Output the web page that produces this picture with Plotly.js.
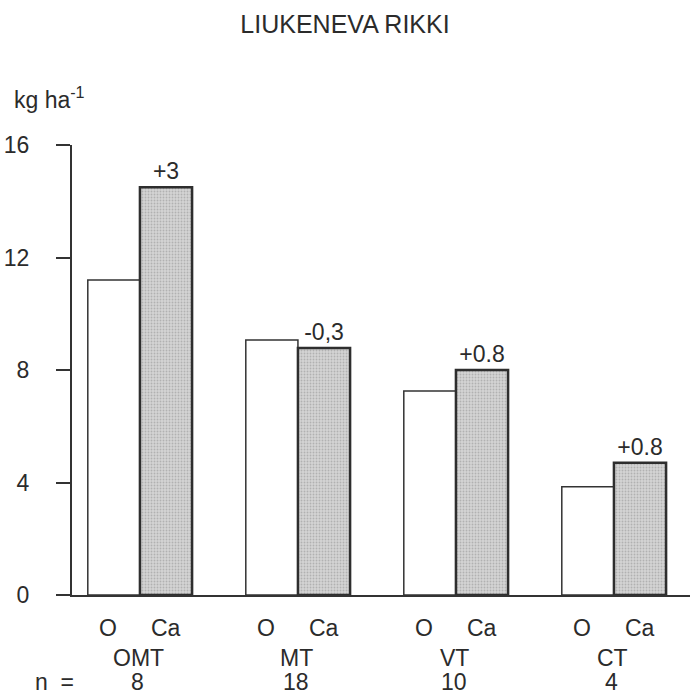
<!DOCTYPE html>
<html>
<head>
<meta charset="utf-8">
<script src="https://cdn.plot.ly/plotly-3.0.1.min.js"></script>
<style>html,body{margin:0;padding:0;background:#fff;}#chart{width:690px;height:697px;}</style>
</head>
<body>
<div id="chart"></div>
<script>
const categories = ['OMT', 'MT', 'VT', 'CT'];
const nValues = ['8', '18', '10', '4'];
const seriesNames = ['O', 'Ca'];
const valuesO = [11.2, 9.07, 7.25, 3.85];
const valuesCa = [14.5, 8.78, 8.0, 4.7];
const diffLabels = ['+3', '-0,3', '+0.8', '+0.8'];
const yTicks = [0, 4, 8, 12, 16];

const FONT = 'Liberation Sans, Arial, Helvetica, sans-serif';
const INK = '#2b2b2b';
const FS = 23;
const xIdx = categories.map((c, i) => i);

function py(p) { return (595 - p) / 450; }
function px(p) { return (p - 72) / 618; }

const traces = [
  {
    type: 'bar', name: seriesNames[0], x: xIdx, y: valuesO,
    marker: {color: '#ffffff', line: {color: '#333333', width: 1.5}},
    hoverinfo: 'skip'
  },
  {
    type: 'bar', name: seriesNames[1], x: xIdx, y: valuesCa,
    text: diffLabels, textposition: 'outside', cliponaxis: false,
    textfont: {family: FONT, size: FS, color: INK},
    marker: {
      color: '#c4c4c4',
      line: {color: '#2e2e2e', width: 2.5},
      pattern: {shape: '.', bgcolor: '#d4d4d4', fgcolor: '#8e8e8e', size: 3, solidity: 0.3, fillmode: 'overlay'}
    },
    hoverinfo: 'skip'
  }
];

const annotations = [];
const off = 0.165;
const tf = {family: FONT, size: FS, color: INK};
categories.forEach((c, i) => {
  annotations.push({x: i - off - 0.035, y: py(628), xref: 'x', yref: 'paper', text: seriesNames[0], showarrow: false, font: tf, yanchor: 'middle'});
  annotations.push({x: i + off, y: py(628), xref: 'x', yref: 'paper', text: seriesNames[1], showarrow: false, font: tf, yanchor: 'middle'});
  annotations.push({x: i - 0.01, y: py(658), xref: 'x', yref: 'paper', text: c, showarrow: false, font: tf, yanchor: 'middle'});
  annotations.push({x: i - 0.015, y: py(697), xref: 'x', yref: 'paper', text: nValues[i], showarrow: false, font: tf, yanchor: 'bottom'});
});
annotations.push({x: px(33), y: py(697), xref: 'paper', yref: 'paper', text: 'n  =', showarrow: false, font: tf, xanchor: 'left', yanchor: 'bottom'});
annotations.push({x: px(12), y: py(98), xref: 'paper', yref: 'paper', text: 'kg ha<sup>-1</sup>', showarrow: false, font: tf, xanchor: 'left', yanchor: 'middle'});

const layout = {
  width: 690, height: 697,
  margin: {l: 72, r: 0, t: 145, b: 102, pad: 0},
  paper_bgcolor: '#ffffff', plot_bgcolor: '#ffffff',
  showlegend: false,
  barmode: 'group', bargap: 0.34, bargroupgap: 0,
  title: {text: 'LIUKENEVA RIKKI', x: 345 / 690, xref: 'container', xanchor: 'center', y: 1 - 24 / 697, yref: 'container', yanchor: 'middle', font: {family: FONT, size: 25, color: INK}},
  xaxis: {
    range: [-0.43, -0.43 + 618 / 158],
    showticklabels: false, ticks: '', showgrid: false, zeroline: false,
    showline: true, linecolor: '#333333', linewidth: 2, fixedrange: true
  },
  yaxis: {
    range: [0, 16], tickvals: yTicks, ticktext: yTicks.map(String),
    ticks: 'outside', ticklen: 14, tickwidth: 2, tickcolor: '#333333',
    ticklabelstandoff: 22,
    showline: true, linecolor: '#333333', linewidth: 2,
    showgrid: false, zeroline: false,
    tickfont: {family: FONT, size: FS, color: INK}, fixedrange: true
  },
  annotations: annotations
};

Plotly.newPlot('chart', traces, layout, {displayModeBar: false, staticPlot: true});
</script>
</body>
</html>
